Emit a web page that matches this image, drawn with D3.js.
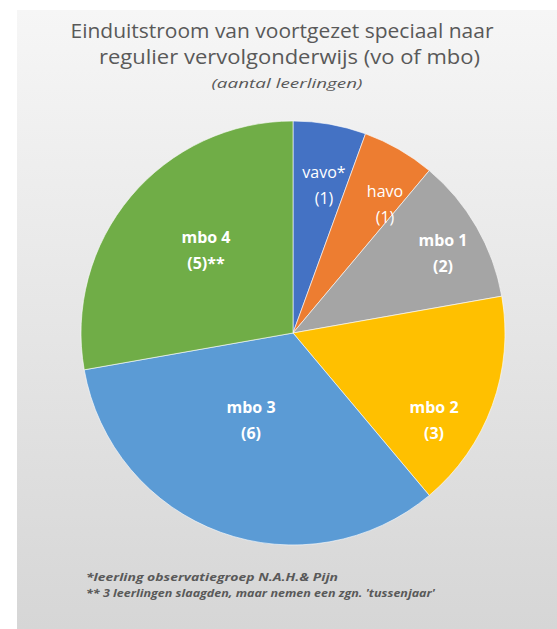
<!DOCTYPE html>
<html>
<head>
<meta charset="utf-8">
<script src="https://cdn.jsdelivr.net/npm/d3@7"></script>
<style>
  html, body { margin: 0; padding: 0; background: #ffffff; }
  svg { display: block; }
</style>
</head>
<body>
<svg id="chart" width="557" height="629"></svg>
<script>
// ---- data ----
const categories = ["vavo", "havo", "mbo 1", "mbo 2", "mbo 3", "mbo 4"];
const values = [1, 1, 2, 3, 6, 5];
const labelNames = ["vavo*", "havo", "mbo 1", "mbo 2", "mbo 3", "mbo 4"];
const labelValues = ["(1)", "(1)", "(2)", "(3)", "(6)", "(5)**"];
const titleLines = ["Einduitstroom van voortgezet speciaal naar", "regulier vervolgonderwijs (vo of mbo)"];
const subtitle = "(aantal leerlingen)";
const footnotes = ["*leerling observatiegroep N.A.H.& Pijn", "** 3 leerlingen slaagden, maar nemen een zgn. 'tussenjaar'"];

// ---- style / layout ----
const colors = ["#4472C4", "#ED7D31", "#A5A5A5", "#FFC000", "#5B9BD5", "#70AD47"];
const labelWeight = ["normal", "normal", "bold", "bold", "bold", "bold"];
const labelNudge = [[4.5, 2.3], [15.7, 3.2], [17.8, -3.7], [-2.4, 34.8], [10.2, -56.4], [29.9, 15.1]];

const svg = d3.select("#chart");
const W = 557, H = 629;
const cx = 293, cy = 333, R = 212;
const fontFam = "'Open Sans', 'DejaVu Sans', sans-serif";

// background panel with vertical gradient
const defs = svg.append("defs");
const grad = defs.append("linearGradient").attr("id", "bg").attr("x1", 0).attr("y1", 0).attr("x2", 0).attr("y2", 1);
grad.append("stop").attr("offset", "0%").attr("stop-color", "#f6f6f6");
grad.append("stop").attr("offset", "100%").attr("stop-color", "#d6d6d6");
svg.append("rect").attr("x", 17).attr("y", 10).attr("width", W - 17).attr("height", H - 10).attr("fill", "url(#bg)");

// titles
const titleG = svg.append("g").attr("fill", "#595959").attr("font-family", fontFam);
titleG.append("text").attr("x", 282).attr("y", 38).attr("text-anchor", "middle")
  .attr("font-size", 20).attr("textLength", 423).attr("lengthAdjust", "spacingAndGlyphs").text(titleLines[0]);
titleG.append("text").attr("x", 289.5).attr("y", 64).attr("text-anchor", "middle")
  .attr("font-size", 20).attr("textLength", 381).attr("lengthAdjust", "spacingAndGlyphs").text(titleLines[1]);
titleG.append("text").attr("x", 287).attr("y", 88).attr("text-anchor", "middle")
  .attr("font-size", 13.5).attr("font-style", "italic").attr("textLength", 151).attr("lengthAdjust", "spacingAndGlyphs").text(subtitle);

// pie
const pie = d3.pie().sort(null).value(d => d)(values);
const arc = d3.arc().innerRadius(0).outerRadius(R);
const g = svg.append("g").attr("transform", `translate(${cx},${cy})`);
g.selectAll("path").data(pie).join("path")
  .attr("d", arc)
  .attr("fill", (d, i) => colors[i])
  .attr("stroke", "#ffffff").attr("stroke-opacity", 0.6).attr("stroke-width", 1);

// labels
const rl = 0.72 * R;
const lab = g.selectAll("g.lab").data(pie).join("g").attr("class", "lab")
  .attr("transform", (d, i) => {
    const a = (d.startAngle + d.endAngle) / 2;
    const x = rl * Math.sin(a) + labelNudge[i][0];
    const y = -rl * Math.cos(a) + labelNudge[i][1];
    return `translate(${x},${y})`;
  })
  .attr("fill", "#ffffff").attr("font-family", fontFam).attr("font-size", 16).attr("text-anchor", "middle");
lab.append("text").attr("y", -7).attr("font-weight", (d, i) => labelWeight[i]).text((d, i) => labelNames[i]);
lab.append("text").attr("y", 19).attr("font-weight", (d, i) => labelWeight[i]).text((d, i) => labelValues[i]);

// footnotes
const fg = svg.append("g").attr("fill", "#595959").attr("font-family", fontFam)
  .attr("font-size", 11).attr("font-style", "italic").attr("font-weight", "bold");
fg.append("text").attr("x", 86).attr("y", 581).attr("textLength", 252).attr("lengthAdjust", "spacingAndGlyphs").text(footnotes[0]);
fg.append("text").attr("x", 86).attr("y", 597).attr("textLength", 349).attr("lengthAdjust", "spacingAndGlyphs").text(footnotes[1]);
</script>
</body>
</html>
